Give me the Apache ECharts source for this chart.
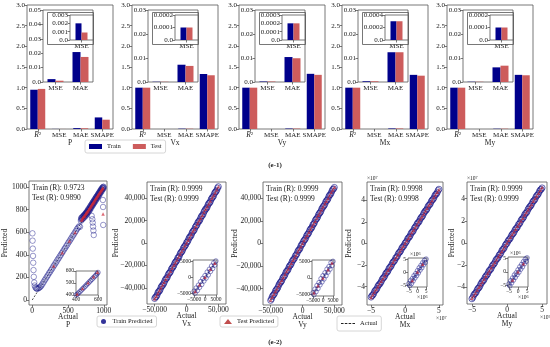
<!DOCTYPE html>
<html><head><meta charset="utf-8">
<script src="https://cdn.jsdelivr.net/npm/echarts@6/dist/echarts.min.js"></script>
<style>html,body{margin:0;padding:0;background:#fff}#c{width:550px;height:347px}</style>
</head><body><div id="c"></div>
<script>
const FONT = 'Liberation Serif';
const TXT = '#1a1a1a';
const FR = '#555';
const TRAIN_C = '#00008B';
const TEST_C = '#CD5C5C';

// ---------------- data: (e-1) bar charts ----------------
const panelNames = ['P', 'Vx', 'Vy', 'Mx', 'My'];
const barCategories = ['R2', 'MSE', 'MAE', 'SMAPE'];
const insetCategories = ['MSE', 'MAE'];
const r2Train = [0.95, 1.0, 1.0, 1.0, 1.0];
const r2Test = [0.97, 1.0, 1.0, 1.0, 1.0];
const mseTrain = [0.002, 0.0001, 0.0002, 0.0003, 0.0001];
const mseTest = [0.0009, 0.0001, 0.0002, 0.0003, 0.0001];
const maeTrain = [0.0208, 0.0072, 0.0104, 0.0124, 0.0061];
const maeTest = [0.0174, 0.0067, 0.0099, 0.0124, 0.0068];
const smapeTrain = [0.28, 1.33, 1.335, 1.31, 1.31];
const smapeTest = [0.225, 1.30, 1.31, 1.29, 1.30];
const mainTicks = [0, 0.5, 1, 1.5, 2, 2.5, 3];
const inset1Ticks = [[0, 0.01, 0.02, 0.03, 0.04, 0.05], [0, 0.01, 0.02, 0.03], [0, 0.01, 0.02, 0.03], [0, 0.01, 0.02, 0.03], [0, 0.01, 0.02, 0.03]];
const inset2Ticks = [[0, 0.001, 0.002, 0.003], [0, 0.0001, 0.0002], [0, 0.0001, 0.0002, 0.0003], [0, 0.0002, 0.0004], [0, 0.0001, 0.0002]];

// ---------------- data: (e-2) scatter plots ----------------
const trainR = ['0.9723', '0.9999', '0.9999', '0.9998', '0.9999'];
const testR = ['0.9890', '0.9999', '0.9999', '0.9998', '0.9999'];

const pTrain = [[3,590],[5,525],[8,455],[11,390],[14,330],[18,265],[22,205],[28,155],[35,128],[45,112],[55,104],[65,100],[78,101],[92,106],[105,112],[118,120],
[130,130],[145,144],[160,160],[175,176],[190,190],[205,206],[220,220],[235,237],[250,250],[265,266],[280,280],[295,297],[310,310],[325,326],[340,340],[355,357],[370,370],[385,386],[400,400],[415,416],[430,430],[445,447],[460,460],[475,476],[490,490],[505,507],[520,520],[535,536],[550,550],[565,567],[580,580],[595,596],[610,610],[625,627],[640,640],[655,652],[668,648],
[680,700],[685,725],[695,712],[700,735],[710,722],[718,745],[725,730],[735,755],[742,740],[750,768],[758,752],[765,778],[772,765],[780,795],[790,780],[798,808],[805,795],[812,825],[820,810],[828,840],[835,828],[842,855],[850,842],[858,870],[865,858],[872,885],[880,872],[888,900],[895,888],[902,915],[910,902],[918,930],[925,918],[932,945],[940,932],[948,960],[955,948],[962,975],[970,962],[978,990],[985,978],[992,1000],[998,990],
[683,712],[692,728],[703,718],[713,740],[722,750],[731,742],[739,762],[747,755],[755,775],[763,768],[770,788],[777,780],[785,805],[793,795],[801,818],[808,810],[816,835],[824,825],[832,848],[839,840],[846,865],[854,855],[862,878],[869,870],[876,895],[884,885],[892,910],[899,902],[906,922],[914,915],[922,938],[929,930],[936,952],[944,945],[952,968],[959,960],[966,982],[974,975],[982,995],[989,988],[996,1002],
[830,745],[840,715],[845,685],[850,650],[855,615],[860,575],[988,885],[990,823],[992,664]];
const pTest = [[300,302],[420,418],[520,522],[600,598],[690,705],[698,716],[705,725],[712,730],[720,738],[728,742],[735,748],[742,758],[750,765],[758,770],[765,778],[772,784],[780,790],[788,798],[795,805],[802,812],[810,820],[818,828],[825,835],[832,842],[840,850],[848,856],[855,862],[862,870],[870,878],[878,888],[885,895],[892,900],[900,908],[908,915],[915,922],[922,930],[930,938],[938,945],[945,952],[952,958],[960,965],[968,972],[975,980],[982,986],[990,992],[990,760]];
const pActual = [[0,0],[1000,1000]];
const pInsetTrain = [[402,400],[412,407],[424,418],[436,428],[448,440],[460,451],[472,462],[484,473],[496,485],[508,496],[520,508],[532,519],[544,530],[556,542],[568,553],[580,565],[592,577],[600,588]];
const pInsetTest = [[410,408],[460,455],[510,503],[560,552],[595,590]];
const pInsetActual = [[400,400],[600,600]];

const vxTrain = [[-50000,-49600],[-47500,-47900],[-45000,-44500],[-42500,-42900],[-40000,-39500],[-37500,-37900],[-35000,-35300],[-32500,-32100],[-30000,-30400],[-27500,-27100],[-25000,-25400],[-22500,-22200],[-20000,-20300],[-17500,-17100],[-15000,-15400],[-12500,-12800],[-10000,-9600],[-7500,-7900],[-5000,-4700],[-2500,-2800],[0,300],[2500,2200],[5000,5300],[7500,7100],[10000,10400],[12500,12100],[15000,15300],[17500,17900],[20000,19600],[22500,22800],[25000,24600],[27500,27900],[30000,30300],[32500,32100],[35000,35400],[37500,37100],[40000,40300],[42500,42100],[45000,45400],[47500,47200],[50000,50300],
[-48750,-48400],[-46250,-46600],[-43750,-43400],[-41250,-41600],[-38750,-38400],[-36250,-36600],[-33750,-33400],[-31250,-31600],[-28750,-28400],[-26250,-26600],[-23750,-23400],[-21250,-21600],[-18750,-18400],[-16250,-16600],[-13750,-13400],[-11250,-11600],[-8750,-8400],[-6250,-6600],[-3750,-3400],[-1250,-1600],[1250,900],[3750,4100],[6250,5900],[8750,9100],[11250,10900],[13750,14100],[16250,15900],[18750,19100],[21250,20900],[23750,24100],[26250,25900],[28750,29100],[31250,30900],[33750,34100],[36250,35900],[38750,39100],[41250,40900],[43750,44100],[46250,45900],[48750,49100]];
const vxTest = [[-50000,-49800],[-47500,-47600],[-45000,-45200],[-42500,-42400],[-40000,-39900],[-37500,-37600],[-35000,-35100],[-32500,-32400],[-30000,-29800],[-27500,-27600],[-25000,-25200],[-22500,-22400],[-20000,-19900],[-17500,-17600],[-15000,-15100],[-12500,-12400],[-10000,-9800],[-7500,-7600],[-5000,-5100],[-2500,-2400],[0,100],[2500,2400],[5000,4900],[7500,7600],[10000,10200],[12500,12400],[15000,14900],[17500,17600],[20000,20100],[22500,22400],[25000,24800],[27500,27600],[30000,30200],[32500,32400],[35000,34900],[37500,37600],[40000,40100],[42500,42400],[45000,44800],[47500,47600],[50000,50200]];
const vxActual = [[-50000,-50000],[50000,50000]];
const vxInsetTrain = [[-5000,-4300],[-4500,-4900],[-4000,-3300],[-3500,-4100],[-3000,-2400],[-2500,-3100],[-2000,-1300],[-1500,-2200],[-1000,-300],[-500,-1100],[0,600],[500,-200],[1000,1700],[1500,800],[2000,2600],[2500,1900],[3000,3600],[3500,2800],[4000,4600],[4500,3900],[5000,5200]];
const vxInsetTest = [[-4500,-4400],[-2500,-2300],[0,100],[2500,2600],[4500,4500]];
const vxInsetActual = [[-5000,-5000],[5000,5000]];

const vyTrain = [[-50000,-50400],[-47500,-47100],[-45000,-45300],[-42500,-42100],[-40000,-40400],[-37500,-37200],[-35000,-34600],[-32500,-32900],[-30000,-29700],[-27500,-27800],[-25000,-24600],[-22500,-22900],[-20000,-19700],[-17500,-17800],[-15000,-14600],[-12500,-12900],[-10000,-10300],[-7500,-7100],[-5000,-5400],[-2500,-2100],[0,-300],[2500,2800],[5000,4700],[7500,7900],[10000,9700],[12500,12800],[15000,14600],[17500,17200],[20000,20400],[22500,22100],[25000,25300],[27500,27200],[30000,30400],[32500,32800],[35000,34700],[37500,37900],[40000,39600],[42500,42800],[45000,44700],[47500,47900],[50000,49700],
[-48750,-49100],[-46250,-45900],[-43750,-44100],[-41250,-40900],[-38750,-39100],[-36250,-35900],[-33750,-34100],[-31250,-30900],[-28750,-29100],[-26250,-25900],[-23750,-24100],[-21250,-20900],[-18750,-19100],[-16250,-15900],[-13750,-14100],[-11250,-10900],[-8750,-9100],[-6250,-5900],[-3750,-4100],[-1250,-900],[1250,1600],[3750,3400],[6250,6600],[8750,8400],[11250,11600],[13750,13400],[16250,16600],[18750,18400],[21250,21600],[23750,23400],[26250,26600],[28750,28400],[31250,31600],[33750,33400],[36250,36600],[38750,38400],[41250,41600],[43750,43400],[46250,46600],[48750,48400]];
const vyTest = [[-50000,-50100],[-47500,-47400],[-45000,-44900],[-42500,-42600],[-40000,-40200],[-37500,-37400],[-35000,-34800],[-32500,-32600],[-30000,-30100],[-27500,-27400],[-25000,-24900],[-22500,-22600],[-20000,-20200],[-17500,-17400],[-15000,-14800],[-12500,-12600],[-10000,-10100],[-7500,-7400],[-5000,-4900],[-2500,-2600],[0,-100],[2500,2600],[5000,5200],[7500,7400],[10000,9900],[12500,12600],[15000,15100],[17500,17400],[20000,19800],[22500,22600],[25000,25100],[27500,27400],[30000,29900],[32500,32600],[35000,35200],[37500,37400],[40000,39800],[42500,42600],[45000,45100],[47500,47400],[50000,49900]];
const vyActual = [[-50000,-50000],[50000,50000]];
const vyInsetTrain = [[-5000,-4500],[-4500,-5100],[-4000,-3400],[-3500,-4200],[-3000,-2300],[-2500,-3200],[-2000,-1400],[-1500,-2100],[-1000,-200],[-500,-1200],[0,700],[500,-300],[1000,1600],[1500,700],[2000,2700],[2500,1800],[3000,3500],[3500,2700],[4000,4700],[4500,3800],[5000,5100]];
const vyInsetTest = [[-4500,-4500],[-2500,-2400],[0,0],[2500,2500],[4500,4600]];
const vyInsetActual = [[-5000,-5000],[5000,5000]];

const mxTrain = [[-5.0e7,-4.97e7],[-4.75e7,-4.79e7],[-4.5e7,-4.46e7],[-4.25e7,-4.29e7],[-4.0e7,-3.96e7],[-3.75e7,-3.78e7],[-3.5e7,-3.53e7],[-3.25e7,-3.21e7],[-3.0e7,-3.04e7],[-2.75e7,-2.71e7],[-2.5e7,-2.54e7],[-2.25e7,-2.22e7],[-2.0e7,-2.03e7],[-1.75e7,-1.71e7],[-1.5e7,-1.54e7],[-1.25e7,-1.28e7],[-1.0e7,-0.96e7],[-0.75e7,-0.79e7],[-0.5e7,-0.47e7],[-0.25e7,-0.28e7],[0,0.03e7],[0.25e7,0.22e7],[0.5e7,0.53e7],[0.75e7,0.71e7],[1.0e7,1.04e7],[1.25e7,1.21e7],[1.5e7,1.53e7],[1.75e7,1.79e7],[2.0e7,1.96e7],[2.25e7,2.28e7],[2.5e7,2.46e7],[2.75e7,2.79e7],[3.0e7,3.03e7],[3.25e7,3.21e7],[3.5e7,3.54e7],[3.75e7,3.71e7],[4.0e7,4.03e7],[4.25e7,4.21e7],[4.5e7,4.54e7],[4.75e7,4.72e7],[5.0e7,5.03e7],
[-4.875e7,-4.84e7],[-4.625e7,-4.66e7],[-4.375e7,-4.34e7],[-4.125e7,-4.16e7],[-3.875e7,-3.84e7],[-3.625e7,-3.66e7],[-3.375e7,-3.34e7],[-3.125e7,-3.16e7],[-2.875e7,-2.84e7],[-2.625e7,-2.66e7],[-2.375e7,-2.34e7],[-2.125e7,-2.16e7],[-1.875e7,-1.84e7],[-1.625e7,-1.66e7],[-1.375e7,-1.34e7],[-1.125e7,-1.16e7],[-0.875e7,-0.84e7],[-0.625e7,-0.66e7],[-0.375e7,-0.34e7],[-0.125e7,-0.16e7],[0.125e7,0.09e7],[0.375e7,0.41e7],[0.625e7,0.59e7],[0.875e7,0.91e7],[1.125e7,1.09e7],[1.375e7,1.41e7],[1.625e7,1.59e7],[1.875e7,1.91e7],[2.125e7,2.09e7],[2.375e7,2.41e7],[2.625e7,2.59e7],[2.875e7,2.91e7],[3.125e7,3.09e7],[3.375e7,3.41e7],[3.625e7,3.59e7],[3.875e7,3.91e7],[4.125e7,4.09e7],[4.375e7,4.41e7],[4.625e7,4.59e7],[4.875e7,4.91e7]];
const mxTest = [[-5.0e7,-5.01e7],[-4.75e7,-4.74e7],[-4.5e7,-4.49e7],[-4.25e7,-4.26e7],[-4.0e7,-4.02e7],[-3.75e7,-3.74e7],[-3.5e7,-3.49e7],[-3.25e7,-3.26e7],[-3.0e7,-3.01e7],[-2.75e7,-2.74e7],[-2.5e7,-2.48e7],[-2.25e7,-2.26e7],[-2.0e7,-2.01e7],[-1.75e7,-1.74e7],[-1.5e7,-1.49e7],[-1.25e7,-1.26e7],[-1.0e7,-1.02e7],[-0.75e7,-0.74e7],[-0.5e7,-0.49e7],[-0.25e7,-0.26e7],[0,0.01e7],[0.25e7,0.26e7],[0.5e7,0.49e7],[0.75e7,0.74e7],[1.0e7,1.02e7],[1.25e7,1.26e7],[1.5e7,1.49e7],[1.75e7,1.74e7],[2.0e7,2.01e7],[2.25e7,2.26e7],[2.5e7,2.48e7],[2.75e7,2.74e7],[3.0e7,3.01e7],[3.25e7,3.26e7],[3.5e7,3.52e7],[3.75e7,3.74e7],[4.0e7,3.99e7],[4.25e7,4.26e7],[4.5e7,4.51e7],[4.75e7,4.74e7],[5.0e7,4.99e7]];
const mxActual = [[-5.0e7,-5.0e7],[5.0e7,5.0e7]];
const mxInsetTrain = [[-5.0e6,-4.2e6],[-4.5e6,-5.0e6],[-4.0e6,-3.1e6],[-3.5e6,-4.2e6],[-3.0e6,-2.3e6],[-2.5e6,-3.2e6],[-2.0e6,-1.2e6],[-1.5e6,-2.1e6],[-1.0e6,-0.4e6],[-0.5e6,-1.2e6],[0,0.7e6],[0.5e6,-0.2e6],[1.0e6,1.8e6],[1.5e6,0.9e6],[2.0e6,2.7e6],[2.5e6,1.8e6],[3.0e6,3.7e6],[3.5e6,2.9e6],[4.0e6,4.6e6],[4.5e6,3.8e6],[5.0e6,5.1e6]];
const mxInsetTest = [[-3.0e6,-3.0e6],[0,0.2e6],[3.0e6,3.1e6]];
const mxInsetActual = [[-5.0e6,-5.0e6],[5.0e6,5.0e6]];

const myTrain = [[-5.0e7,-5.03e7],[-4.75e7,-4.71e7],[-4.5e7,-4.53e7],[-4.25e7,-4.22e7],[-4.0e7,-4.04e7],[-3.75e7,-3.72e7],[-3.5e7,-3.46e7],[-3.25e7,-3.28e7],[-3.0e7,-2.97e7],[-2.75e7,-2.78e7],[-2.5e7,-2.46e7],[-2.25e7,-2.29e7],[-2.0e7,-1.97e7],[-1.75e7,-1.78e7],[-1.5e7,-1.46e7],[-1.25e7,-1.29e7],[-1.0e7,-1.03e7],[-0.75e7,-0.71e7],[-0.5e7,-0.54e7],[-0.25e7,-0.21e7],[0,-0.03e7],[0.25e7,0.28e7],[0.5e7,0.47e7],[0.75e7,0.79e7],[1.0e7,0.97e7],[1.25e7,1.28e7],[1.5e7,1.46e7],[1.75e7,1.72e7],[2.0e7,2.04e7],[2.25e7,2.21e7],[2.5e7,2.53e7],[2.75e7,2.72e7],[3.0e7,3.04e7],[3.25e7,3.28e7],[3.5e7,3.47e7],[3.75e7,3.79e7],[4.0e7,3.96e7],[4.25e7,4.28e7],[4.5e7,4.47e7],[4.75e7,4.79e7],[5.0e7,4.97e7],
[-4.875e7,-4.91e7],[-4.625e7,-4.59e7],[-4.375e7,-4.41e7],[-4.125e7,-4.09e7],[-3.875e7,-3.91e7],[-3.625e7,-3.59e7],[-3.375e7,-3.41e7],[-3.125e7,-3.09e7],[-2.875e7,-2.91e7],[-2.625e7,-2.59e7],[-2.375e7,-2.41e7],[-2.125e7,-2.09e7],[-1.875e7,-1.91e7],[-1.625e7,-1.59e7],[-1.375e7,-1.41e7],[-1.125e7,-1.09e7],[-0.875e7,-0.91e7],[-0.625e7,-0.59e7],[-0.375e7,-0.41e7],[-0.125e7,-0.09e7],[0.125e7,0.16e7],[0.375e7,0.34e7],[0.625e7,0.66e7],[0.875e7,0.84e7],[1.125e7,1.16e7],[1.375e7,1.34e7],[1.625e7,1.66e7],[1.875e7,1.84e7],[2.125e7,2.16e7],[2.375e7,2.34e7],[2.625e7,2.66e7],[2.875e7,2.84e7],[3.125e7,3.16e7],[3.375e7,3.34e7],[3.625e7,3.66e7],[3.875e7,3.84e7],[4.125e7,4.16e7],[4.375e7,4.34e7],[4.625e7,4.66e7],[4.875e7,4.84e7]];
const myTest = [[-5.0e7,-4.99e7],[-4.75e7,-4.76e7],[-4.5e7,-4.51e7],[-4.25e7,-4.24e7],[-4.0e7,-3.99e7],[-3.75e7,-3.76e7],[-3.5e7,-3.52e7],[-3.25e7,-3.24e7],[-3.0e7,-2.99e7],[-2.75e7,-2.76e7],[-2.5e7,-2.51e7],[-2.25e7,-2.24e7],[-2.0e7,-1.99e7],[-1.75e7,-1.76e7],[-1.5e7,-1.52e7],[-1.25e7,-1.24e7],[-1.0e7,-0.99e7],[-0.75e7,-0.76e7],[-0.5e7,-0.51e7],[-0.25e7,-0.24e7],[0,-0.01e7],[0.25e7,0.24e7],[0.5e7,0.52e7],[0.75e7,0.76e7],[1.0e7,0.99e7],[1.25e7,1.24e7],[1.5e7,1.51e7],[1.75e7,1.76e7],[2.0e7,1.99e7],[2.25e7,2.24e7],[2.5e7,2.52e7],[2.75e7,2.76e7],[3.0e7,2.99e7],[3.25e7,3.24e7],[3.5e7,3.48e7],[3.75e7,3.76e7],[4.0e7,4.01e7],[4.25e7,4.24e7],[4.5e7,4.49e7],[4.75e7,4.76e7],[5.0e7,5.01e7]];
const myActual = [[-5.0e7,-5.0e7],[5.0e7,5.0e7]];
const myInsetTrain = [[-5.0e6,-4.4e6],[-4.5e6,-5.1e6],[-4.0e6,-3.2e6],[-3.5e6,-4.0e6],[-3.0e6,-2.2e6],[-2.5e6,-3.0e6],[-2.0e6,-1.1e6],[-1.5e6,-2.0e6],[-1.0e6,-0.3e6],[-0.5e6,-1.0e6],[0,0.8e6],[0.5e6,-0.1e6],[1.0e6,1.9e6],[1.5e6,1.0e6],[2.0e6,2.8e6],[2.5e6,1.9e6],[3.0e6,3.8e6],[3.5e6,3.0e6],[4.0e6,4.7e6],[4.5e6,3.9e6],[5.0e6,5.2e6]];
const myInsetTest = [[-3.0e6,-2.9e6],[0,0.1e6],[3.0e6,3.0e6]];
const myInsetActual = [[-5.0e6,-5.0e6],[5.0e6,5.0e6]];

const scatterTrain = [pTrain, vxTrain, vyTrain, mxTrain, myTrain];
const scatterTest = [pTest, vxTest, vyTest, mxTest, myTest];
const scatterActual = [pActual, vxActual, vyActual, mxActual, myActual];
const insetTrain = [pInsetTrain, vxInsetTrain, vyInsetTrain, mxInsetTrain, myInsetTrain];
const insetTest = [pInsetTest, vxInsetTest, vyInsetTest, mxInsetTest, myInsetTest];
const insetActual = [pInsetActual, vxInsetActual, vyInsetActual, mxInsetActual, myInsetActual];
const scatterXTicks = [[0,500,1000],[-50000,0,50000],[-50000,0,50000],[-5e7,0,5e7],[-5e7,0,5e7]];
const scatterYTicks = [[0,200,400,600,800,1000],[-40000,-20000,0,20000,40000],[-40000,-20000,0,20000,40000],[-4e7,-2e7,0,2e7,4e7],[-4e7,-2e7,0,2e7,4e7]];
const insetXTicks = [[400,600],[-5000,0,5000],[-5000,0,5000],[-5e6,0,5e6],[-5e6,0,5e6]];
const insetYTicks = [[400,500,600],[-5000,0,5000],[-5000,0,5000],[-5e6,0,5e6],[-5e6,0,5e6]];

// ---------------- layout (positions & axis limits) ----------------
const barLefts = [27, 132, 239, 342, 447];
const scatterPos = [[29,181,78,124],[147,182,79,122],[263,182,79,123],[367,182,76,123],[467,182,80,122]];
const scatterInsetPos = [[76,271,22,24],[193,260,24,35],[312,260,22,36],[408,258,19,29],[508,257,20,30]];
const scatterXLim = [[-45,1045],[-62000,62000],[-62000,62000],[-5.6e7,5.6e7],[-5.7e7,5.7e7]];
const scatterYLim = [[-44,1053],[-54500,54500],[-54500,54500],[-5.7e7,5.7e7],[-5.5e7,5.5e7]];
const insetLim = [[400,600],[-5500,5500],[-5500,5500],[-5.5e6,5.5e6],[-5.5e6,5.5e6]];
const predGap = [20, 27, 24, 14, 11];

const grids = [], xAxes = [], yAxes = [], series = [], graphics = [];
function addGrid(l, t, w, h) {
  grids.push({left:l, top:t, width:w, height:h, show:true, borderColor:FR, borderWidth:0.8,
    backgroundColor:'#fff', containLabel:false, outerBoundsMode:'none'});
  return grids.length - 1;
}
const tickStyle = {show:true, length:2.5, lineStyle:{color:FR, width:0.8}};
const noLine = {show:false, onZero:false};
function lab(fs, extra) { return Object.assign({fontSize:fs, color:TXT, fontFamily:FONT}, extra || {}); }
const decFmt = v => v === 0 ? '0.0' : String(parseFloat(v.toPrecision(4)));
const minus = s => String(s).replace('-', '\u2212');

function catAxis(gi, cats, fs, name) {
  const ax = {gridIndex:gi, type:'category', data:cats, axisLine:noLine,
    axisTick:Object.assign({alignWithLabel:true}, tickStyle),
    axisLabel:lab(fs, {interval:0, margin:2.5,
      formatter: v => v === 'R2' ? '{it|R}{sup|2}' : v,
      rich:{it:{fontStyle:'italic', fontSize:fs+0.5, fontFamily:FONT, color:TXT},
            sup:{fontSize:5, fontFamily:FONT, color:TXT, verticalAlign:'top', lineHeight:5}}})};
  if (name) Object.assign(ax, {name:name, nameLocation:'middle', nameGap:10, nameMoveOverlap:false,
    nameTextStyle:lab(7.5)});
  xAxes.push(ax);
}
function valAxisY(gi, ticks, fmt, fs) {
  yAxes.push({gridIndex:gi, type:'value', min:ticks[0], max:ticks[ticks.length-1], interval:ticks[1]-ticks[0],
    axisLine:noLine, axisTick:tickStyle, splitLine:{show:false},
    axisLabel:lab(fs, {margin:2, formatter:fmt})});
}
function bars(gi, name, data, w) {
  series.push({type:'bar', name:name, xAxisIndex:gi, yAxisIndex:gi, data:data, barWidth:w, barGap:'0%',
    itemStyle:{color: name === 'Train' ? TRAIN_C : TEST_C}, z:3});
}

// ---- (e-1) bar panels
barLefts.forEach((L, i) => {
  const g0 = addGrid(L, 5, 86, 124);
  catAxis(g0, barCategories, 7, panelNames[i]);
  valAxisY(g0, mainTicks, v => v.toFixed(1), 7);
  bars(g0, 'Train', [r2Train[i], mseTrain[i], maeTrain[i], smapeTrain[i]], 7.5);
  bars(g0, 'Test', [r2Test[i], mseTest[i], maeTest[i], smapeTest[i]], 7.5);

  const g1 = addGrid(L + 16, 10, 50, 72);
  catAxis(g1, insetCategories, 7);
  valAxisY(g1, inset1Ticks[i], decFmt, 7);
  bars(g1, 'Train', [mseTrain[i], maeTrain[i]], 8);
  bars(g1, 'Test', [mseTest[i], maeTest[i]], 8);

  graphics.push({type:'rect', shape:{x:L + 20.5, y:12.5, width:46, height:32},
    style:{fill:'none', stroke:FR, lineWidth:0.8}, z:10});
  const g2 = addGrid(L + 43, 15, 23, 25);
  catAxis(g2, ['MSE'], 7);
  valAxisY(g2, inset2Ticks[i], decFmt, 7);
  bars(g2, 'Train', [mseTrain[i]], 6);
  bars(g2, 'Test', [mseTest[i]], 6);
});

// ---- (e-2) scatter panels
function scAxes(gi, xlim, ylim, xt, yt, fmt, fs, xName, yGap) {
  const xa = {gridIndex:gi, type:'value', min:xlim[0], max:xlim[1], axisLine:noLine,
    axisTick:Object.assign({customValues:xt}, tickStyle), splitLine:{show:false},
    axisLabel:lab(fs, {customValues:xt, margin:2, formatter:fmt})};
  if (xName) Object.assign(xa, {name:xName, nameLocation:'middle', nameGap:8, nameMoveOverlap:false,
    nameTextStyle:lab(7.5, {lineHeight:8})});
  xAxes.push(xa);
  const ya = {gridIndex:gi, type:'value', min:ylim[0], max:ylim[1], axisLine:noLine,
    axisTick:Object.assign({customValues:yt}, tickStyle), splitLine:{show:false},
    axisLabel:lab(fs, {customValues:yt, margin:2, formatter:fmt})};
  if (yGap) Object.assign(ya, {name:'Predicted', nameLocation:'middle', nameGap:yGap, nameRotate:90,
    nameMoveOverlap:false, nameTextStyle:lab(7.5)});
  yAxes.push(ya);
}
function scSeries(gi, tr, te, ac, sz, alpha) {
  series.push({type:'line', name:'Actual', xAxisIndex:gi, yAxisIndex:gi, data:ac, symbol:'none',
    lineStyle:{color:'#222', width:0.8, type:[2,1.5]}, z:2});
  series.push({type:'scatter', name:'Train Predicted', xAxisIndex:gi, yAxisIndex:gi, data:tr, symbol:'circle', symbolSize:sz,
    itemStyle:{color:'rgba(0,0,0,0)', borderColor:'rgba(20,20,135,' + alpha + ')', borderWidth:1}, z:3});
  series.push({type:'scatter', name:'Test Predicted', xAxisIndex:gi, yAxisIndex:gi, data:te, symbol:'triangle', symbolSize:3.5,
    itemStyle:{color:'rgba(205,40,55,0.85)'}, z:4});
}
const mainFmt = [v => String(v), v => minus(v.toLocaleString('en-US')), v => minus(v.toLocaleString('en-US')), v => minus(v / 1e7), v => minus(v / 1e7)];
const insetFmt = [v => String(v), v => minus(v), v => minus(v), v => minus(v / 1e6), v => minus(v / 1e6)];

panelNames.forEach((nm, i) => {
  const p = scatterPos[i];
  const g = addGrid(p[0], p[1], p[2], p[3]);
  scAxes(g, scatterXLim[i], scatterYLim[i], scatterXTicks[i], scatterYTicks[i], mainFmt[i], 7.5, 'Actual\n' + nm, predGap[i]);
  scSeries(g, scatterTrain[i], scatterTest[i], scatterActual[i], i === 0 ? 5.5 : 6, i === 0 ? 0.55 : 0.8);
  graphics.push({type:'text', x:p[0] + 3, y:p[1] + 2, style:{text:'Train (R): ' + trainR[i] + '\nTest (R): ' + testR[i],
    fontSize:7.5, fontFamily:FONT, fill:TXT, lineHeight:10}, z:10});
  const q = scatterInsetPos[i];
  const gi = addGrid(q[0], q[1], q[2], q[3]);
  scAxes(gi, insetLim[i], insetLim[i], insetXTicks[i], insetYTicks[i], insetFmt[i], 5.5);
  scSeries(gi, insetTrain[i], insetTest[i], insetActual[i], 4.5, 0.6);
  if (i >= 3) {
    const rich = {a:{fontSize:5.5, fontFamily:FONT, fill:TXT}, b:{fontSize:4, fontFamily:FONT, fill:TXT, verticalAlign:'top', lineHeight:4}};
    graphics.push({type:'text', x:p[0], y:p[1] - 6, style:{text:'{a|\u00d710}{b|7}', rich:rich}, z:10});
    graphics.push({type:'text', x:p[0] + p[2] - 7, y:p[1] + p[3] + 11, style:{text:'{a|\u00d710}{b|7}', rich:rich}, z:10});
    graphics.push({type:'text', x:q[0] + 2, y:q[1] - 6, style:{text:'{a|\u00d710}{b|6}', rich:rich}, z:10});
    graphics.push({type:'text', x:q[0] + q[2] - 10, y:q[1] + q[3] + 8, style:{text:'{a|\u00d710}{b|6}', rich:rich}, z:10});
  }
});

graphics.push({type:'text', x:275, y:165, style:{text:'(e-1)', fontSize:7, fontWeight:'bold', fontFamily:FONT, fill:TXT, align:'center', verticalAlign:'middle'}});
graphics.push({type:'text', x:275, y:342, style:{text:'(e-2)', fontSize:7, fontWeight:'bold', fontFamily:FONT, fill:TXT, align:'center', verticalAlign:'middle'}});

const legBase = {orient:'horizontal', padding:[2,4], borderColor:'#ccc', borderWidth:0.8, borderRadius:2,
  backgroundColor:'#fff', textStyle:lab(6.5), itemGap:12, selectedMode:false};
const dashIcon = 'path://M0,0H3V1H0Z M4.5,0H7.5V1H4.5Z M9,0H12V1H9Z M13.5,0H16.5V1H13.5Z';
const legends = [
  Object.assign({}, legBase, {left:85, top:140, itemWidth:13, itemHeight:5, padding:[3,4],
    data:[{name:'Train', icon:'rect'}, {name:'Test', icon:'rect'}]}),
  Object.assign({}, legBase, {left:97, top:316, itemWidth:8, itemHeight:5,
    data:[{name:'Train Predicted', icon:'circle', itemStyle:{color:'#000080', borderWidth:0}}]}),
  Object.assign({}, legBase, {left:220, top:316, itemWidth:8, itemHeight:5,
    data:[{name:'Test Predicted', icon:'triangle', itemStyle:{color:'#B22222'}}]}),
  Object.assign({}, legBase, {left:337, top:316, itemWidth:14, itemHeight:1, padding:[4,4,4,4],
    data:[{name:'Actual', icon:dashIcon, itemStyle:{color:'#222'}}]})
];

const chart = echarts.init(document.getElementById('c'), null, {renderer:'canvas'});
chart.setOption({animation:false, backgroundColor:'#fff', textStyle:{fontFamily:FONT},
  grid:grids, xAxis:xAxes, yAxis:yAxes, series:series, legend:legends, graphic:{elements:graphics}});
</script></body></html>
